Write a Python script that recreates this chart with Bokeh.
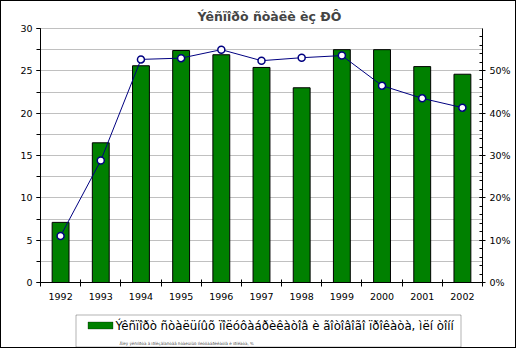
from bokeh.plotting import figure
from bokeh.layouts import column
from bokeh.models import (Range1d, LinearAxis, FixedTicker, SingleIntervalTicker,
                          NumeralTickFormatter, BoxAnnotation, Label)
from bokeh.embed import file_html
from bokeh.resources import INLINE

years = ["1992", "1993", "1994", "1995", "1996", "1997", "1998", "1999", "2000", "2001", "2002"]
export_mt = [7.1, 16.5, 25.6, 27.4, 26.9, 25.4, 23.0, 27.5, 27.5, 25.5, 24.6]
export_share = [0.110, 0.288, 0.527, 0.530, 0.550, 0.524, 0.531, 0.536, 0.465, 0.435, 0.413]
title_text = "Ýêñïîðò ñòàëè èç ÐÔ"
legend_bar = "Ýêñïîðò ñòàëüíûõ ïîëóôàáðèêàòîâ è ãîòîâîãî ïðîêàòà, ìëí òîíí"
legend_line = "Äîëÿ ýêñïîðòà â ïðîèçâîäñòâå ñòàëüíûõ ïîëóôàáðèêàòîâ è ïðîêàòà, %"

FONT = "DejaVu Sans"
GREEN = "#008000"
NAVY = "#000080"
x = list(range(len(years)))

# ---------------- main chart ----------------
p = figure(width=514, height=306, output_backend="svg", toolbar_location=None,
           x_range=Range1d(-0.5, len(years) - 0.5), y_range=Range1d(0, 30),
           min_border_left=39, min_border_right=33, min_border_top=26, min_border_bottom=25)
p.extra_y_ranges = {"pct": Range1d(0, 0.6)}
p.outline_line_color = "#c0c0c0"
p.background_fill_color = "white"

p.title.text = title_text
p.title.text_font = FONT
p.title.text_font_size = "12.5px"
p.title.text_font_style = "bold"
p.title.align = "left"
p.title.offset = 157

p.xgrid.grid_line_color = None
p.ygrid.grid_line_color = "#c0c0c0"
p.ygrid.minor_grid_line_color = "#c0c0c0"

ya = p.yaxis[0]
ya.ticker = SingleIntervalTicker(interval=5, num_minor_ticks=2)
ya.major_tick_out = 4
ya.major_tick_in = 0
ya.minor_tick_out = 4
ya.minor_tick_in = 0
ya.axis_line_color = "black"
ya.major_label_text_font = FONT
ya.major_label_text_font_size = "9.5px"
ya.major_label_text_color = "black"
ya.major_label_standoff = 4

ra = LinearAxis(y_range_name="pct",
                ticker=SingleIntervalTicker(interval=0.1, num_minor_ticks=5),
                formatter=NumeralTickFormatter(format="0%"))
ra.major_tick_out = 3
ra.major_tick_in = 3
ra.minor_tick_out = 0
ra.minor_tick_in = 3
ra.axis_line_color = "black"
ra.major_label_text_font = FONT
ra.major_label_text_font_size = "9.5px"
ra.major_label_text_color = "black"
ra.major_label_standoff = 4
p.add_layout(ra, "right")

xa = p.xaxis[0]
xa.ticker = FixedTicker(ticks=x, minor_ticks=[i - 0.5 for i in range(len(years) + 1)])
xa.major_label_overrides = {i: y for i, y in zip(x, years)}
xa.major_tick_out = 0
xa.major_tick_in = 0
xa.minor_tick_out = 4
xa.minor_tick_in = 3
xa.axis_line_color = "black"
xa.major_label_text_font = FONT
xa.major_label_text_font_size = "9.5px"
xa.major_label_text_color = "black"
xa.major_label_standoff = 6

p.vbar(x=x, top=export_mt, width=0.42, fill_color=GREEN, line_color="black", line_width=1)
p.line(x, export_share, y_range_name="pct", line_color=NAVY, line_width=1)
p.scatter(x, export_share, y_range_name="pct", size=7, fill_color="white",
          line_color=NAVY, line_width=1.5)

# ---------------- legend strip (frame is aligned with the chart frame: 39..481 px) ----------------
lg = figure(width=514, height=40, output_backend="svg", toolbar_location=None,
            x_range=Range1d(39, 481), y_range=Range1d(0, 40),
            x_axis_type=None, y_axis_type=None,
            min_border_left=39, min_border_right=33, min_border_top=0, min_border_bottom=0)
lg.outline_line_color = None
lg.xgrid.grid_line_color = None
lg.ygrid.grid_line_color = None

lg.add_layout(BoxAnnotation(left=74.5, right=459.5, top=32.5, bottom=0.5,
                            fill_color="white", fill_alpha=1,
                            line_color="black", line_width=1))
lg.add_layout(BoxAnnotation(left=86.5, right=111.5, top=25.5, bottom=18.5,
                            fill_color=GREEN, fill_alpha=1,
                            line_color="black", line_width=1))
lg.add_layout(Label(x=114, y=22, text=legend_bar, text_font=FONT, text_font_size="11.8px",
                    text_color="black", text_baseline="middle"))
lg.add_layout(Label(x=118, y=4, text=legend_line, text_font=FONT, text_font_size="4px",
                    text_color="#555555", text_baseline="middle"))

layout = column(p, lg, spacing=0,
                styles={"border": "1px solid black", "box-sizing": "border-box"})

open("out.html", "w").write(file_html(layout, INLINE))
